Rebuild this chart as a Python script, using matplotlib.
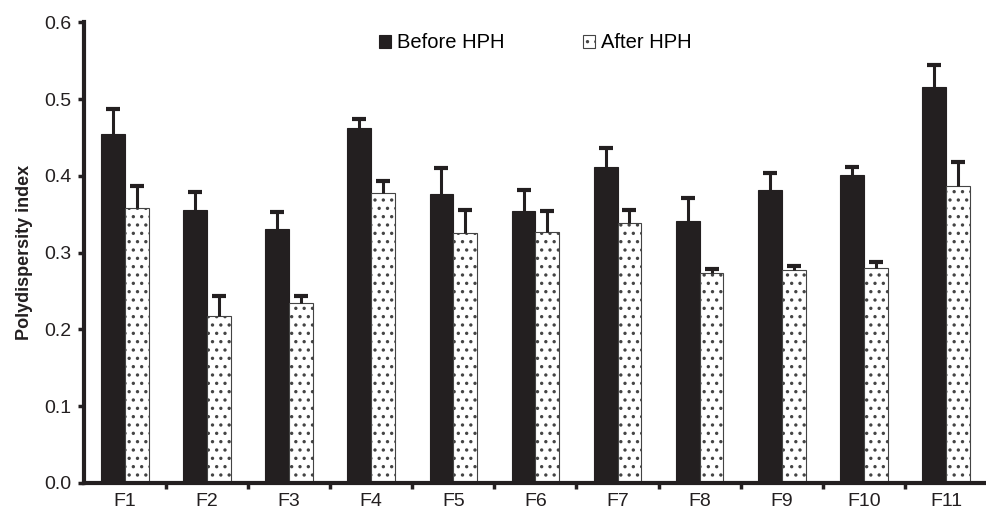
import numpy as np
import matplotlib
matplotlib.use("Agg")
import matplotlib.pyplot as plt

plt.rcParams['font.family'] = ['Liberation Sans', 'DejaVu Sans']
plt.rcParams['hatch.linewidth'] = 1.2

categories = ['F1', 'F2', 'F3', 'F4', 'F5', 'F6', 'F7', 'F8', 'F9', 'F10', 'F11']
before = [0.454, 0.355, 0.331, 0.462, 0.376, 0.354, 0.411, 0.341, 0.382, 0.401, 0.516]
before_err = [0.033, 0.024, 0.022, 0.012, 0.034, 0.028, 0.025, 0.030, 0.021, 0.010, 0.028]
after = [0.358, 0.218, 0.234, 0.377, 0.326, 0.327, 0.338, 0.273, 0.277, 0.280, 0.387]
after_err = [0.029, 0.025, 0.009, 0.016, 0.029, 0.027, 0.018, 0.005, 0.006, 0.008, 0.031]

fig = plt.figure(figsize=(9.87, 5.17), dpi=100)
ax = fig.add_axes([0.085, 0.066, 0.915, 0.891])

x = np.arange(len(categories))
w = 0.29
dark = '#231f20'

ax.bar(x - w / 2, before, w, color=dark, edgecolor=dark, linewidth=0.8,
       label='Before HPH', zorder=2)
ax.bar(x + w / 2, after, w, color='white', edgecolor='#444444', linewidth=0.8,
       hatch='..', label='After HPH', zorder=2)

# upward-only error bars (hide the lower cap)
for xs, vals, errs in [(x - w / 2, before, before_err), (x + w / 2, after, after_err)]:
    _, caps, _ = ax.errorbar(xs, vals, yerr=[np.zeros(len(vals)), errs], fmt='none',
                             ecolor=dark, elinewidth=2.2, capsize=5, capthick=3, zorder=3)
    caps[0].set_visible(False)

ax.set_xlim(-0.5, len(categories) - 0.5)
ax.set_ylim(0, 0.6)
yt = np.arange(0, 0.61, 0.1)
ax.set_yticks(yt)
ax.set_yticklabels([f'{v:.1f}' for v in yt], fontsize=14, color=dark)
ax.set_xticks(x)
ax.set_xticklabels(categories, fontsize=14, color=dark)
ax.set_xticks(np.arange(0.5, len(categories) - 0.5), minor=True)
ax.tick_params(axis='x', which='major', length=0, pad=7)
ax.tick_params(axis='x', which='minor', length=4, width=2.5, direction='out', color=dark)
ax.tick_params(axis='y', length=4, width=2.5, direction='out', color=dark, pad=5)

ax.set_ylabel('Polydispersity index', fontsize=13, fontweight='bold', color=dark, labelpad=8)

for s in ['top', 'right']:
    ax.spines[s].set_visible(False)
for s in ['left', 'bottom']:
    ax.spines[s].set_linewidth(3)
    ax.spines[s].set_color(dark)

ax.legend(loc='upper center', bbox_to_anchor=(0.50, 1.015), ncol=2, frameon=False,
          fontsize=14.5, handlelength=0.6, handleheight=0.6, handletextpad=0.3,
          columnspacing=3.9)

fig.savefig('out.png', dpi=100)
